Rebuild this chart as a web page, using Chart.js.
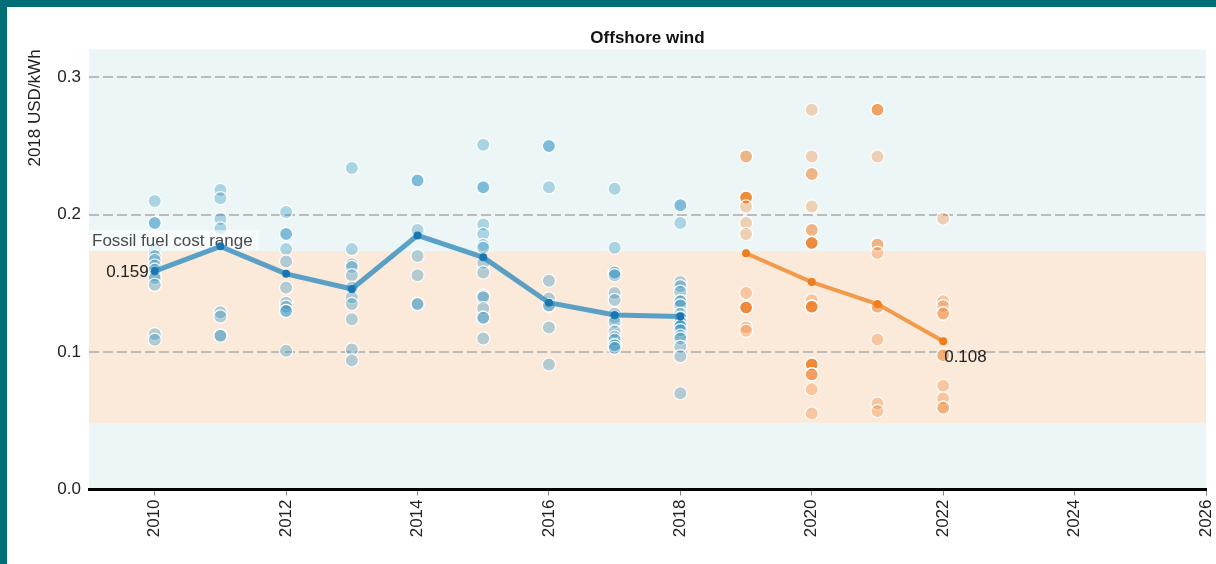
<!DOCTYPE html>
<html>
<head>
<meta charset="utf-8">
<title>Offshore wind</title>
<script src="https://cdn.jsdelivr.net/npm/chart.js@4.4.1/dist/chart.umd.min.js"></script>
<style>
  html, body { margin: 0; padding: 0; background: #fff; }
  .frame { width: 1209px; height: 557px; border-top: 7px solid #006e76; border-left: 7px solid #006e76; }
  .frame canvas { display: block; }
</style>
</head>
<body>
<div class="frame"><canvas id="lcoeChart" width="1209" height="557" style="width:1209px;height:557px"></canvas></div>
<script>
// Project-level LCOE, one list per commissioning year (repeats = several projects at the same cost)
const projectYears = [2010, 2011, 2012, 2013, 2014, 2015, 2016, 2017, 2018];
const projectCosts = [
  [0.210, 0.194, 0.194, 0.175, 0.170, 0.167, 0.163, 0.160, 0.156, 0.154, 0.149, 0.113, 0.109],
  [0.218, 0.212, 0.197, 0.190, 0.129, 0.126, 0.112, 0.112],
  [0.202, 0.186, 0.186, 0.175, 0.166, 0.147, 0.136, 0.133, 0.130, 0.130, 0.101],
  [0.234, 0.175, 0.164, 0.162, 0.156, 0.147, 0.140, 0.135, 0.124, 0.102, 0.094],
  [0.225, 0.225, 0.189, 0.170, 0.156, 0.135, 0.135],
  [0.251, 0.220, 0.220, 0.193, 0.186, 0.178, 0.176, 0.165, 0.158, 0.141, 0.140, 0.132, 0.125, 0.125, 0.110],
  [0.250, 0.250, 0.220, 0.152, 0.139, 0.134, 0.134, 0.118, 0.091],
  [0.219, 0.176, 0.158, 0.158, 0.156, 0.143, 0.138, 0.128, 0.125, 0.122, 0.115, 0.111, 0.109, 0.105, 0.105, 0.103],
  [0.207, 0.207, 0.194, 0.151, 0.148, 0.144, 0.137, 0.137, 0.134, 0.128, 0.125, 0.122, 0.119, 0.119, 0.116, 0.112, 0.110, 0.104, 0.097, 0.070]
];

// Auction / PPA prices by expected commissioning year
const auctionYears = [2019, 2020, 2021, 2022];
const auctionPrices = [
  [0.2425, 0.2425, 0.2125, 0.2125, 0.2125, 0.2125, 0.2125, 0.206, 0.194, 0.186, 0.143, 0.1325, 0.1325, 0.1325, 0.1325, 0.1325, 0.118, 0.1155],
  [0.2765, 0.2425, 0.2297, 0.2297, 0.206, 0.189, 0.189, 0.1795, 0.1795, 0.1795, 0.1795, 0.1795, 0.1378, 0.133, 0.133, 0.133, 0.133, 0.133,
   0.091, 0.091, 0.091, 0.091, 0.091, 0.0838, 0.0838, 0.0838, 0.0729, 0.0554],
  [0.2765, 0.2765, 0.2765, 0.2425, 0.1783, 0.1783, 0.1722, 0.133, 0.133, 0.1092, 0.0627, 0.0571],
  [0.1972, 0.1371, 0.1335, 0.1281, 0.1281, 0.0978, 0.0978, 0.0755, 0.0663, 0.0595, 0.0595]
];

// Weighted averages
const avgYears = [2010, 2011, 2012, 2013, 2014, 2015, 2016, 2017, 2018];
const avgCosts = [0.159, 0.177, 0.157, 0.146, 0.185, 0.169, 0.136, 0.127, 0.126];
const auctionAvgYears = [2019, 2020, 2021, 2022];
const auctionAvgPrices = [0.172, 0.151, 0.135, 0.108];

const fossilRange = [0.0486, 0.1735];
const xTicks = [2010, 2012, 2014, 2016, 2018, 2020, 2022, 2024, 2026];
const yTicks = [0, 0.1, 0.2, 0.3];

const FONT = "'Liberation Sans', Arial, sans-serif";
Chart.defaults.font.family = FONT;
Chart.defaults.font.size = 17;
Chart.defaults.color = '#222';

function toPoints(years, values) {
  return years.flatMap((yr, i) => values[i].map(v => ({ x: yr, y: v })));
}

// plot background + fossil fuel band, under the grid
const backdrop = {
  id: 'backdrop',
  beforeDraw(chart) {
    const { ctx, chartArea: a, scales: { y } } = chart;
    ctx.save();
    ctx.fillStyle = '#edf6f7';
    ctx.fillRect(a.left, a.top, a.width, a.height);
    const top = y.getPixelForValue(fossilRange[1]);
    const bottom = y.getPixelForValue(fossilRange[0]);
    ctx.fillStyle = '#fbe9d9';
    ctx.fillRect(a.left, top, a.width, bottom - top);
    ctx.restore();
  }
};

let bandLabelDrawn = false;
const notes = {
  id: 'notes',
  beforeDatasetsDraw() { bandLabelDrawn = false; },
  beforeDatasetDraw(chart, args) {
    // band label goes over the project dots but under the average lines
    if (bandLabelDrawn || !chart.data.datasets[args.index].showLine) return;
    bandLabelDrawn = true;
    const { ctx, chartArea: a, scales: { y } } = chart;
    const top = y.getPixelForValue(fossilRange[1]);
    const text = 'Fossil fuel cost range';
    ctx.save();
    ctx.font = '17px ' + FONT;
    const w = ctx.measureText(text).width;
    ctx.fillStyle = 'rgba(255,255,255,0.6)';
    ctx.fillRect(a.left + 1, top - 21, w + 8, 20);
    ctx.fillStyle = '#4a4a4a';
    ctx.textBaseline = 'middle';
    ctx.fillText(text, a.left + 3, top - 10);
    ctx.restore();
  },
  afterDatasetsDraw(chart) {
    const { ctx, scales: { x, y } } = chart;
    ctx.save();
    ctx.font = '17px ' + FONT;
    ctx.fillStyle = '#222';
    ctx.textBaseline = 'middle';

    const fx = x.getPixelForValue(avgYears[0]);
    const fy = y.getPixelForValue(avgCosts[0]);
    ctx.textAlign = 'right';
    ctx.fillText(avgCosts[0].toFixed(3), fx - 6, fy + 1);

    const n = auctionAvgYears.length - 1;
    const lx = x.getPixelForValue(auctionAvgYears[n]);
    const ly = y.getPixelForValue(auctionAvgPrices[n]);
    ctx.textAlign = 'left';
    ctx.fillText(auctionAvgPrices[n].toFixed(3), lx + 1, ly + 16);
    ctx.restore();
  }
};

new Chart(document.getElementById('lcoeChart'), {
  type: 'scatter',
  data: {
    datasets: [
      {
        data: toPoints(projectYears, projectCosts),
        order: 3,
        pointRadius: 6.6,
        pointBackgroundColor: 'rgba(34,140,192,0.33)',
        pointBorderColor: 'rgba(255,255,255,0.95)',
        pointBorderWidth: 1.2
      },
      {
        data: toPoints(auctionYears, auctionPrices),
        order: 3,
        pointRadius: 6.6,
        pointBackgroundColor: 'rgba(238,120,25,0.3)',
        pointBorderColor: 'rgba(255,255,255,0.95)',
        pointBorderWidth: 1.2
      },
      {
        data: avgYears.map((yr, i) => ({ x: yr, y: avgCosts[i] })),
        order: 1,
        showLine: true,
        borderColor: 'rgba(50,140,190,0.8)',
        borderWidth: 5,
        pointRadius: 4,
        pointBackgroundColor: '#1a76b2',
        pointBorderWidth: 0
      },
      {
        data: auctionAvgYears.map((yr, i) => ({ x: yr, y: auctionAvgPrices[i] })),
        order: 1,
        showLine: true,
        borderColor: 'rgba(240,140,50,0.85)',
        borderWidth: 4,
        pointRadius: 4,
        pointBackgroundColor: '#ee7d1c',
        pointBorderWidth: 0
      }
    ]
  },
  options: {
    responsive: false,
    animation: false,
    layout: { padding: { top: 0, right: 10, bottom: 0, left: 0 } },
    plugins: {
      legend: { display: false },
      tooltip: { enabled: false },
      title: {
        display: true,
        text: 'Offshore wind',
        fullSize: false,
        color: '#111',
        font: { size: 17, weight: 'bold' },
        padding: { top: 21, bottom: 1 }
      }
    },
    scales: {
      x: {
        type: 'linear',
        min: 2009,
        max: 2026,
        afterBuildTicks: s => { s.ticks = xTicks.map(v => ({ value: v })); },
        afterFit: s => { s.height = 74.5; s.paddingLeft = 0; s.paddingRight = 0; },
        ticks: {
          autoSkip: false,
          minRotation: 90,
          maxRotation: 90,
          padding: 4,
          callback: v => String(v)
        },
        grid: { drawOnChartArea: false, drawTicks: true, tickLength: 6, color: '#888', lineWidth: 1 },
        border: { display: true, color: '#000', width: 3 }
      },
      y: {
        min: 0,
        max: 0.3204,
        afterBuildTicks: s => { s.ticks = yTicks.map(v => ({ value: v })); },
        afterFit: s => { s.width = 82; },
        ticks: { padding: 8, callback: v => v.toFixed(1) },
        grid: {
          drawTicks: false,
          lineWidth: 2,
          color: c => (c.tick && c.tick.value === 0 ? 'rgba(0,0,0,0)' : '#bcbcbc')
        },
        border: { display: false, dash: [10, 4] },
        title: {
          display: true,
          text: '2018 USD/kWh',
          align: 'end',
          color: '#222',
          font: { size: 17 },
          padding: { top: 18, bottom: 0 }
        }
      }
    }
  },
  plugins: [backdrop, notes]
});
</script>
</body>
</html>
